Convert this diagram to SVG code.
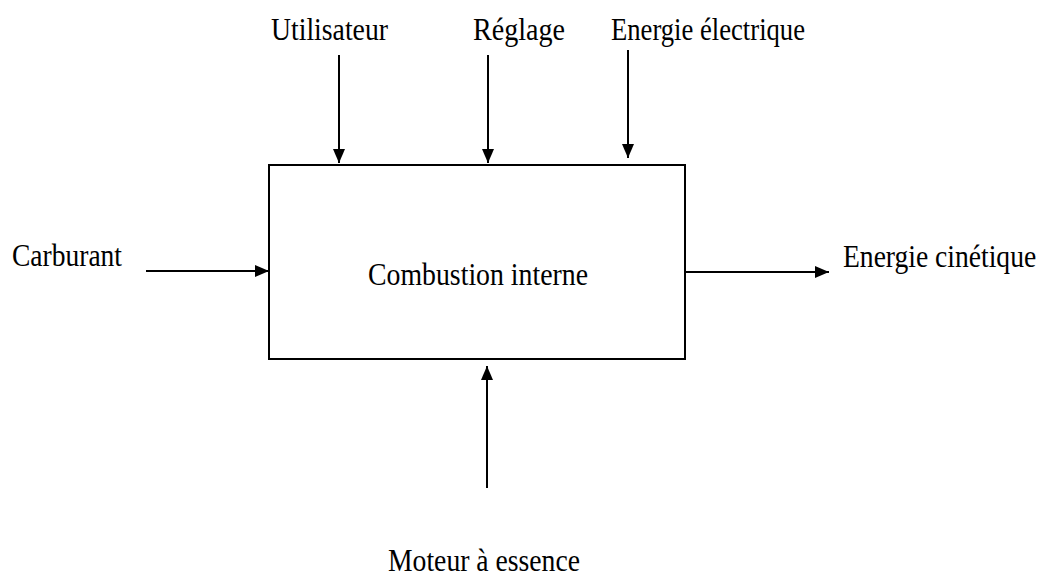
<svg xmlns="http://www.w3.org/2000/svg" width="1048" height="576" viewBox="0 0 1048 576">
<defs>
<marker id="ah" markerWidth="14" markerHeight="12" refX="14" refY="6" orient="auto" markerUnits="userSpaceOnUse">
<path d="M0,0 L14,6 L0,12 Z" fill="#000"/>
</marker>
<style>
text{font-family:"Liberation Serif","Times New Roman",serif;font-size:32px;fill:#000}
.c{stroke:#000;stroke-width:2;fill:none;marker-end:url(#ah)}
</style>
</defs>
<rect width="1048" height="576" fill="#fff"/>
<g id="process">
<rect x="269" y="165" width="416" height="194" fill="#fff" stroke="#000" stroke-width="2"/>
<text x="368" y="285" textLength="220" lengthAdjust="spacingAndGlyphs">Combustion interne</text>
</g>
<g id="utilisateur"><text x="271" y="40" textLength="117" lengthAdjust="spacingAndGlyphs">Utilisateur</text></g>
<g id="reglage"><text x="473" y="40" textLength="92" lengthAdjust="spacingAndGlyphs">Réglage</text></g>
<g id="energie-electrique"><text x="611" y="40" textLength="194" lengthAdjust="spacingAndGlyphs">Energie électrique</text></g>
<g id="carburant"><text x="12" y="266" textLength="110" lengthAdjust="spacingAndGlyphs">Carburant</text></g>
<g id="energie-cinetique"><text transform="translate(843,267) scale(0.862,1)" x="0" y="0">Energie cinétique</text></g>
<g id="moteur"><text x="388" y="571" textLength="192" lengthAdjust="spacingAndGlyphs">Moteur à essence</text></g>
<g id="connectors">
<line class="c" x1="339" y1="55" x2="339" y2="163"/>
<line class="c" x1="488" y1="55" x2="488" y2="163"/>
<line class="c" x1="628" y1="50" x2="628" y2="158"/>
<line class="c" x1="146" y1="271" x2="269" y2="271"/>
<line class="c" x1="685" y1="272" x2="829" y2="272"/>
<line class="c" x1="487" y1="488" x2="487" y2="366"/>
</g>
</svg>
